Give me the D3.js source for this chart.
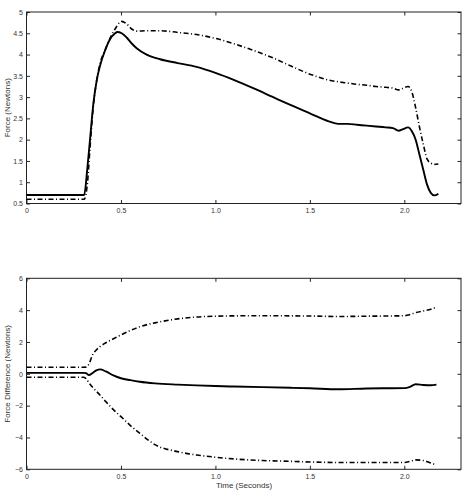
<html>
<head>
<meta charset="utf-8">
<script src="https://cdnjs.cloudflare.com/ajax/libs/d3/7.8.5/d3.min.js"></script>
<style>
  body { margin: 0; background: #fff; }
  text { font-family: "Liberation Sans", Arial, sans-serif; }
</style>
</head>
<body>
<svg width="468" height="503"></svg>
<script>
// top panel: force vs time
const timeTop = [0, 0.1, 0.2, 0.305, 0.323, 0.336, 0.354, 0.372, 0.39, 0.416, 0.442, 0.469, 0.48, 0.504, 0.53, 0.557, 0.583, 0.636, 0.707, 0.8, 0.9, 1.0, 1.1, 1.2, 1.3, 1.4, 1.5, 1.6, 1.65, 1.7, 1.75, 1.8, 1.85, 1.9, 1.94, 1.97, 1.99, 2.02, 2.04, 2.06, 2.08, 2.1, 2.12, 2.14, 2.16, 2.18]
const forceMean = [0.7, 0.7, 0.7, 0.7, 1.37, 1.99, 2.85, 3.4, 3.75, 4.1, 4.36, 4.5, 4.53, 4.5, 4.4, 4.26, 4.15, 4.0, 3.89, 3.8, 3.71, 3.57, 3.4, 3.21, 3.01, 2.81, 2.62, 2.43, 2.37, 2.37, 2.35, 2.33, 2.31, 2.29, 2.27, 2.21, 2.24, 2.29, 2.2, 2.0, 1.65, 1.3, 0.95, 0.75, 0.69, 0.73]
const forceUpper = [0.6, 0.6, 0.6, 0.6, 1.0, 1.8, 2.8, 3.4, 3.8, 4.1, 4.38, 4.6, 4.68, 4.78, 4.72, 4.6, 4.55, 4.56, 4.56, 4.52, 4.47, 4.38, 4.25, 4.1, 3.93, 3.73, 3.54, 3.4, 3.36, 3.33, 3.3, 3.28, 3.25, 3.23, 3.21, 3.17, 3.2, 3.25, 3.12, 2.75, 2.3, 1.9, 1.55, 1.45, 1.42, 1.43]

// bottom panel: force difference vs time
const timeBottom = [0, 0.1, 0.2, 0.3, 0.315, 0.33, 0.35, 0.37, 0.39, 0.42, 0.46, 0.5, 0.55, 0.6, 0.68, 0.8, 0.9, 1.0, 1.1, 1.25, 1.4, 1.5, 1.65, 1.8, 1.9, 2.0, 2.03, 2.06, 2.1, 2.14, 2.17]
const diffMean = [0.06, 0.06, 0.06, 0.06, 0.04, -0.08, 0.05, 0.22, 0.28, 0.15, -0.1, -0.28, -0.4, -0.5, -0.6, -0.68, -0.73, -0.77, -0.8, -0.84, -0.88, -0.91, -0.97, -0.92, -0.91, -0.9, -0.82, -0.66, -0.7, -0.72, -0.68]
const diffUpper = [0.41, 0.41, 0.41, 0.41, 0.42, 0.6, 1.2, 1.5, 1.72, 1.95, 2.2, 2.44, 2.72, 2.96, 3.2, 3.45, 3.57, 3.62, 3.64, 3.65, 3.64, 3.63, 3.6, 3.62, 3.63, 3.65, 3.72, 3.84, 3.95, 4.05, 4.2]
const diffLower = [-0.22, -0.22, -0.22, -0.22, -0.3, -0.55, -0.85, -1.1, -1.35, -1.75, -2.25, -2.69, -3.25, -3.74, -4.45, -4.89, -5.1, -5.24, -5.35, -5.45, -5.5, -5.54, -5.57, -5.57, -5.57, -5.57, -5.5, -5.41, -5.45, -5.6, -5.73]

const xTicks = [0, 0.5, 1.0, 1.5, 2.0]
const yTicksTop = [0.5, 1, 1.5, 2, 2.5, 3, 3.5, 4, 4.5, 5]
const yTicksBottom = [-6, -4, -2, 0, 2, 4, 6]

const svg = d3.select('svg')
const left = 26.5, right = 461

const x = d3.scaleLinear().domain([0, 2.3]).range([left, right])
const xFmt = d => d === 0 ? '0' : d3.format('.1f')(d)

const drawPanel = (top, bottom, yDomain, yTicks, yLabel, series, xLabel) => {
    const y = d3.scaleLinear().domain(yDomain).range([bottom, top])
    const g = svg.append('g')

    const styleAxis = sel => {
        sel.select('.domain').remove()
        sel.selectAll('line').attr('stroke', '#222')
        sel.selectAll('text').attr('font-size', 7).attr('fill', '#333')
            .style('font-family', '"Liberation Sans", Arial, sans-serif')
    }

    g.append('g').attr('transform', `translate(0,${bottom})`)
        .call(d3.axisBottom(x).tickValues(xTicks).tickFormat(xFmt).tickSizeInner(-3.5).tickSizeOuter(0).tickPadding(4.5))
        .call(styleAxis)
    g.append('g').attr('transform', `translate(0,${top})`)
        .call(d3.axisTop(x).tickValues(xTicks).tickFormat('').tickSizeInner(-3.5).tickSizeOuter(0))
        .call(styleAxis)
    g.append('g').attr('transform', `translate(${left},0)`)
        .call(d3.axisLeft(y).tickValues(yTicks).tickFormat(d3.format('')).tickSizeInner(-3.5).tickSizeOuter(0).tickPadding(3.5))
        .call(styleAxis)
    g.append('g').attr('transform', `translate(${right},0)`)
        .call(d3.axisRight(y).tickValues(yTicks).tickFormat('').tickSizeInner(-3.5).tickSizeOuter(0))
        .call(styleAxis)

    g.append('rect').attr('x', left).attr('y', top).attr('width', right - left).attr('height', bottom - top)
        .attr('fill', 'none').attr('stroke', '#222').attr('stroke-width', 1)

    series.forEach(s => {
        const line = d3.line().x((d, i) => x(s.t[i])).y(d => y(d)).curve(d3.curveMonotoneX)
        g.append('path').attr('d', line(s.v)).attr('fill', 'none').attr('stroke', '#000')
            .attr('stroke-width', s.dash ? 1.6 : 1.9)
            .attr('stroke-dasharray', s.dash ? '5,2.5,1,2.5' : null)
    })

    g.append('text').attr('transform', `translate(9.5,${(top + bottom) / 2}) rotate(-90)`)
        .attr('text-anchor', 'middle').attr('font-size', 8).attr('fill', '#333').text(yLabel)

    if (xLabel) {
        g.append('text').attr('x', 244).attr('y', bottom + 19)
            .attr('text-anchor', 'middle').attr('font-size', 8).attr('fill', '#333').text(xLabel)
    }
}

drawPanel(12, 203.5, [0.5, 5], yTicksTop, 'Force (Newtons)', [
    { t: timeTop, v: forceUpper, dash: true },
    { t: timeTop, v: forceMean, dash: false }
])

drawPanel(278.3, 469.3, [-6, 6], yTicksBottom, 'Force Difference (Newtons)', [
    { t: timeBottom, v: diffUpper, dash: true },
    { t: timeBottom, v: diffLower, dash: true },
    { t: timeBottom, v: diffMean, dash: false }
], 'Time (Seconds)')
</script>
</body>
</html>
